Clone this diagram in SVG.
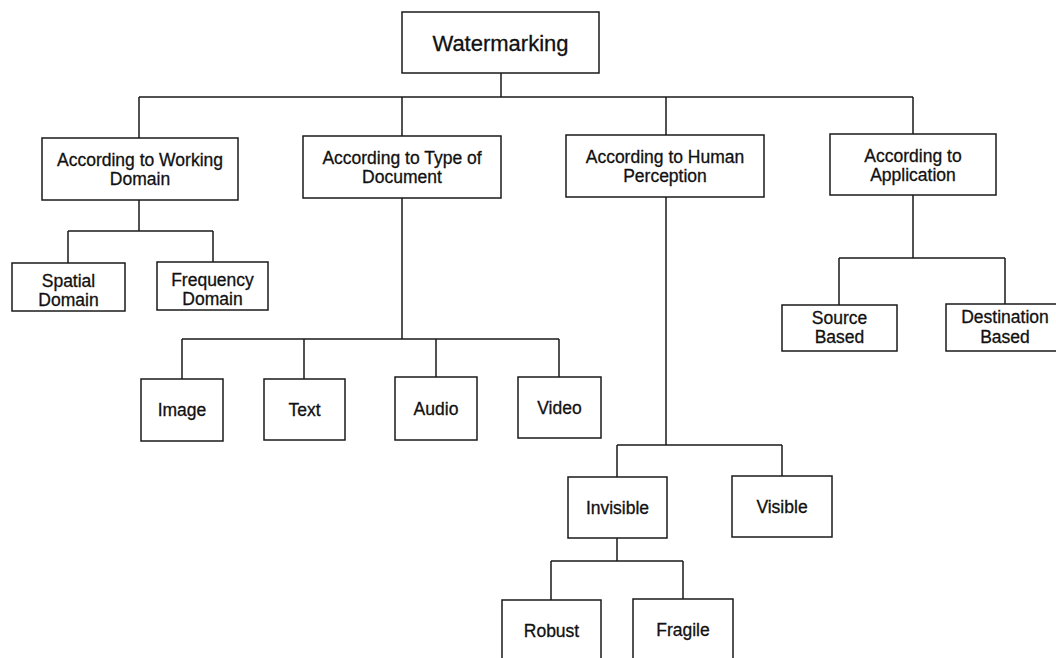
<svg xmlns="http://www.w3.org/2000/svg" width="1056" height="658" viewBox="0 0 1056 658">
<style>
.box{fill:#fff;stroke:#1a1a1a;stroke-width:1.5}
.lbl{font-family:"Liberation Sans",Arial,sans-serif;font-size:17.5px;fill:#111;stroke:#111;stroke-width:0.3;text-anchor:middle}
.root{font-size:22px}
.con{fill:none;stroke:#1a1a1a;stroke-width:1.5}
</style>
<rect width="1056" height="658" fill="#fff"/>
<g id="connectors" class="con">
<path d="M501,73V97M139,97H913M139,97V138M402,97V136M666,97V135M913,97V134"/>
<path d="M139,200V231M68,231H213M68,231V263M213,231V262"/>
<path d="M402,198V339M182,339H559M182,339V379M304,339V379M436,339V377M559,339V377"/>
<path d="M666,197V445M617,445H782M617,445V477M782,445V476"/>
<path d="M617,538V561M551,561H683M551,561V600M683,561V599"/>
<path d="M913,195V258M839,258H1005M839,258V305M1005,258V304"/>
</g>
<g id="root"><rect class="box" x="402" y="12" width="197" height="61"/><text class="lbl root" x="500.5" y="51">Watermarking</text></g>
<g id="working"><rect class="box" x="42" y="138" width="196" height="62"/><text class="lbl" x="140" y="165.5">According to Working</text><text class="lbl" x="140" y="185">Domain</text></g>
<g id="document"><rect class="box" x="303" y="136" width="198" height="62"/><text class="lbl" x="402" y="163.5">According to Type of</text><text class="lbl" x="402" y="183">Document</text></g>
<g id="perception"><rect class="box" x="566" y="135" width="198" height="62"/><text class="lbl" x="665" y="162.5">According to Human</text><text class="lbl" x="665" y="182">Perception</text></g>
<g id="application"><rect class="box" x="830" y="134" width="166" height="61"/><text class="lbl" x="913" y="161.5">According to</text><text class="lbl" x="913" y="181">Application</text></g>
<g id="spatial"><rect class="box" x="12" y="263" width="113" height="48"/><text class="lbl" x="68.5" y="287">Spatial</text><text class="lbl" x="68.5" y="306">Domain</text></g>
<g id="frequency"><rect class="box" x="157" y="262" width="111" height="48"/><text class="lbl" x="212.5" y="286">Frequency</text><text class="lbl" x="212.5" y="305">Domain</text></g>
<g id="image"><rect class="box" x="141" y="379" width="82" height="62"/><text class="lbl" x="182" y="416">Image</text></g>
<g id="text"><rect class="box" x="264" y="379" width="81" height="61"/><text class="lbl" x="304.5" y="416">Text</text></g>
<g id="audio"><rect class="box" x="395" y="377" width="82" height="63"/><text class="lbl" x="436" y="415">Audio</text></g>
<g id="video"><rect class="box" x="518" y="377" width="83" height="61"/><text class="lbl" x="559.5" y="414">Video</text></g>
<g id="invisible"><rect class="box" x="568" y="477" width="99" height="61"/><text class="lbl" x="617.5" y="514">Invisible</text></g>
<g id="visible"><rect class="box" x="732" y="476" width="100" height="61"/><text class="lbl" x="782" y="513">Visible</text></g>
<g id="robust"><rect class="box" x="502" y="600" width="99" height="80"/><text class="lbl" x="551.5" y="637">Robust</text></g>
<g id="fragile"><rect class="box" x="633" y="599" width="100" height="80"/><text class="lbl" x="683" y="636">Fragile</text></g>
<g id="source"><rect class="box" x="782" y="305" width="115" height="46"/><text class="lbl" x="839.5" y="324">Source</text><text class="lbl" x="839.5" y="343">Based</text></g>
<g id="destination"><rect class="box" x="946" y="304" width="118" height="47"/><text class="lbl" x="1005" y="323">Destination</text><text class="lbl" x="1005" y="343">Based</text></g>
</svg>
